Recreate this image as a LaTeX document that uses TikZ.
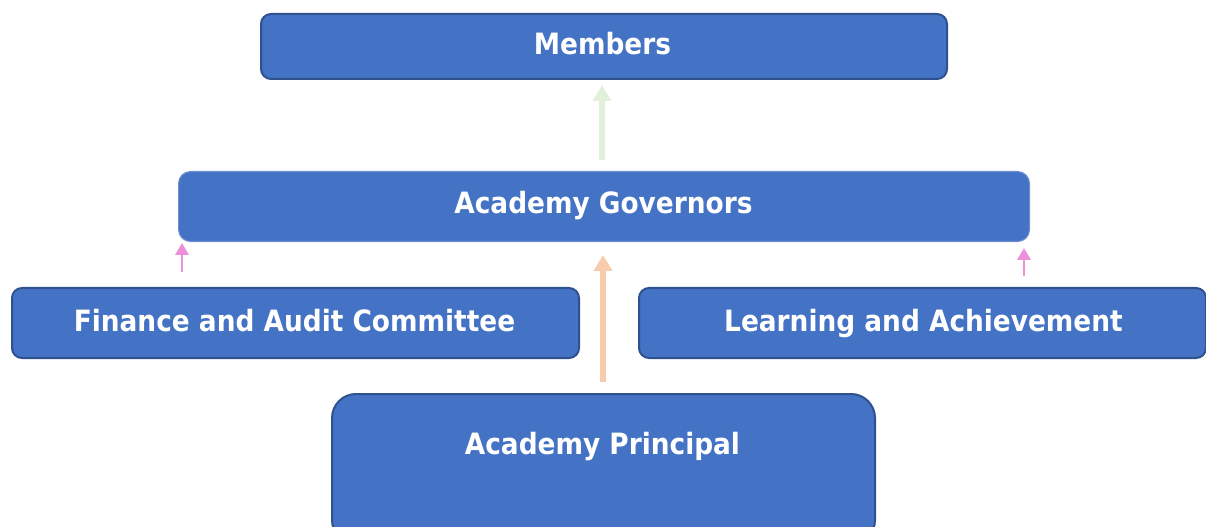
\documentclass[tikz,border=0pt]{standalone}
\usepackage{fontspec}
\setmainfont{DejaVu Sans Condensed}
\usetikzlibrary{arrows.meta}
\definecolor{boxfill}{HTML}{4472C4}
\definecolor{boxline}{HTML}{2F528F}
\definecolor{govline}{HTML}{6E8FD2}
\definecolor{grn}{HTML}{E2EFDA}
\definecolor{org}{HTML}{F8CBAD}
\definecolor{pnk}{HTML}{EE8FDB}
\tikzset{
  box/.style={draw=boxline, line width=1.5pt, fill=boxfill, rounded corners=7.5pt, anchor=north west, inner sep=0pt},
  lbl/.style={text=white, font=\bfseries\fontsize{22}{26}\selectfont, inner sep=0pt, anchor=base},
  bigarrow/.style={line width=4.5pt, -{Triangle[width=13.5pt,length=12pt]}},
  smallarrow/.style={line width=1.8pt, color=pnk, -{Triangle[width=10pt,length=9pt]}}
}
\begin{document}
\begin{tikzpicture}[x=0.75pt,y=-0.75pt]
\useasboundingbox (0,0) rectangle (1206,527);
\begin{scope}
\clip (0,0) rectangle (1206,527);
\node[box, minimum width=686*0.75pt, minimum height=65*0.75pt] (members) at (260,13) {};
\node[box, draw=govline, line width=0.8pt, rounded corners=9pt, minimum width=851*0.75pt, minimum height=70*0.75pt] (gov) at (178,171) {};
\node[box, minimum width=567*0.75pt, minimum height=70*0.75pt] (fin) at (11,287) {};
\node[box, minimum width=567*0.75pt, minimum height=70*0.75pt] (learn) at (638,287) {};
\node[box, rounded corners=18pt, minimum width=543*0.75pt, minimum height=150*0.75pt] (prin) at (331,393) {};
\end{scope}
\node[lbl] (tmem) at (602.5,55) {Members};
\node[lbl] (tgov) at (603.5,214) {Academy Governors};
\node[lbl] (tfin) at (294.5,331) {Finance and Audit Committee};
\node[lbl] (tlearn) at (923.5,331) {Learning and Achievement};
\node[lbl] (tprin) at (602.5,454) {Academy Principal};
\coordinate (g1) at (602,160);
\coordinate (g2) at (602,85);
\coordinate (o1) at (603,382);
\coordinate (o2) at (603,255);
\coordinate (p1) at (182,272);
\coordinate (p2) at (182,243);
\coordinate (q1) at (1024,276);
\coordinate (q2) at (1024,248);
\draw[bigarrow, color=grn] (g1) -- (g2);
\draw[bigarrow, color=org] (o1) -- (o2);
\draw[smallarrow] (p1) -- (p2);
\draw[smallarrow] (q1) -- (q2);
\end{tikzpicture}
\end{document}
